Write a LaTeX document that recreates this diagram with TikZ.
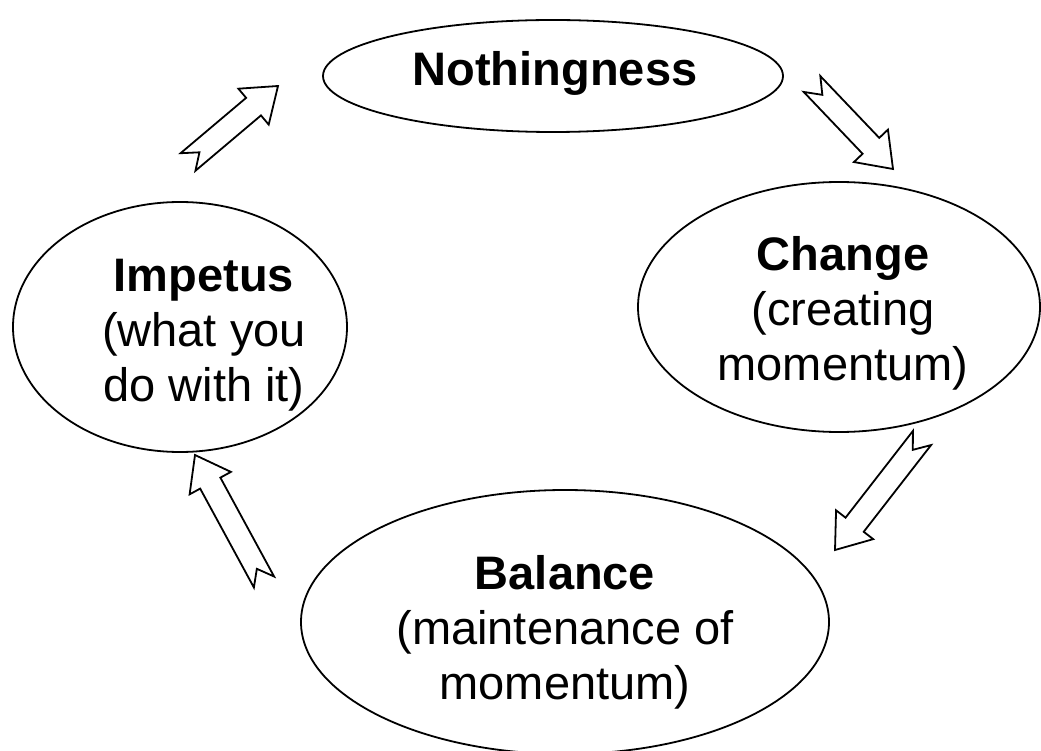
\documentclass[tikz,border=0pt]{standalone}
\usepackage{fontspec}
\setmainfont{Liberation Sans}
\usetikzlibrary{shapes.geometric,calc}
\tikzset{
  ell/.style={draw, ellipse, line width=1.8pt, inner sep=0pt},
  txt/.style={inner sep=0pt, align=center, font=\fontsize{47}{55}\selectfont},
  arr/.style={draw, line width=1.8pt, fill=white, line join=miter},
}
\newcommand{\notched}[2]{%
  \draw[arr] ($(#1)!11.5pt!90:(#2)$)
    -- ($(#2)!32pt!(#1)!11.5pt!90:(#2)$)
    -- ($(#2)!32pt!(#1)!23.5pt!90:(#2)$)
    -- (#2)
    -- ($(#2)!32pt!(#1)!23.5pt!-90:(#2)$)
    -- ($(#2)!32pt!(#1)!11.5pt!-90:(#2)$)
    -- ($(#1)!11.5pt!-90:(#2)$)
    -- ($(#1)!15pt!(#2)$)
    -- cycle;}
\begin{document}
\begin{tikzpicture}[x=1pt,y=-1pt]
\useasboundingbox (0,0) rectangle (1041,751);
\node[ell, minimum width=460pt, minimum height=112pt] (noth) at (553,76) {};
\node[ell, minimum width=402pt, minimum height=250pt] (change) at (839,307) {};
\node[ell, minimum width=334pt, minimum height=250pt] (imp) at (180,327) {};
\node[ell, minimum width=528pt, minimum height=264pt] (bal) at (565,622) {};
\node[txt] (nothT) at (555,73) {\bfseries Nothingness};
\node[txt] (changeT) at (843,313) {{\bfseries Change}\\(creating\\momentum)};
\node[txt] (impT) at (204,335) {{\bfseries Impetus}\\(what you\\do with it)};
\node[txt] (balT) at (565,632) {{\bfseries Balance}\\(maintenance of\\momentum)};
\coordinate (t1) at (188,162); \coordinate (h1) at (278,86);
\coordinate (t2) at (812,84);  \coordinate (h2) at (893,169);
\coordinate (t3) at (922,438); \coordinate (h3) at (835,550);
\coordinate (t4) at (264,582); \coordinate (h4) at (195,455);
\notched{t1}{h1}
\notched{t2}{h2}
\notched{t3}{h3}
\notched{t4}{h4}
\end{tikzpicture}
\end{document}
